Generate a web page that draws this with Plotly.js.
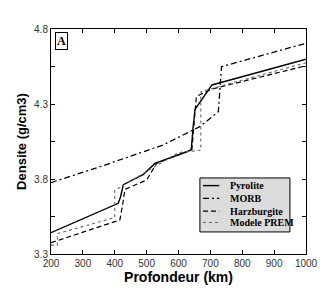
<!DOCTYPE html>
<html><head><meta charset="utf-8">
<script src="https://cdn.plot.ly/plotly-3.0.1.min.js"></script>
<style>body{margin:0;background:#fff}#g{width:336px;height:296px}</style>
</head><body><div id="g"></div>
<script>
const pyroX = [200, 411, 418, 427, 490, 526, 630, 640, 646, 652, 705, 1000];
const pyroY = [3.442, 3.638, 3.68, 3.762, 3.831, 3.904, 3.985, 3.995, 4.15, 4.265, 4.427, 4.598];
const morbX = [200, 354, 552, 667, 725, 730, 735, 1000];
const morbY = [3.776, 3.882, 4.027, 4.149, 4.249, 4.40, 4.549, 4.705];
const harzX = [200, 416, 424, 432, 500, 531, 630, 642, 650, 656, 705, 1000];
const harzY = [3.375, 3.527, 3.62, 3.731, 3.793, 3.904, 3.985, 3.995, 4.20, 4.35, 4.40, 4.555];
const premX = [200, 220, 220, 400, 400, 600, 670, 670, 771, 1000];
const premY = [3.359, 3.359, 3.436, 3.543, 3.724, 3.976, 3.992, 4.381, 4.443, 4.575];
const names = ['Pyrolite', 'MORB', 'Harzburgite', 'Modele PREM'];
const xTicks = [200, 300, 400, 500, 600, 700, 800, 900, 1000];
const yTicks = [3.3, 3.8, 4.3, 4.8];

const styles = [
  {color: '#000', width: 1.4, dash: 'solid'},
  {color: '#000', width: 1.3, dash: '6px,3px,2px,3px'},
  {color: '#000', width: 1.2, dash: '5px,3px'},
  {color: '#666', width: 1.1, dash: 'dot'}
];
const xs = [pyroX, morbX, harzX, premX];
const ys = [pyroY, morbY, harzY, premY];
const traces = names.map((n, i) => ({type: 'scatter', mode: 'lines', x: xs[i], y: ys[i], name: n, line: styles[i], showlegend: false}));

// manual legend (paper coords)
const rowY = [0.304, 0.247, 0.191, 0.140];
const shapes = [{type: 'rect', xref: 'paper', yref: 'paper', x0: 0.584, x1: 0.937, y0: 0.098, y1: 0.338,
  fillcolor: '#dcdcdc', line: {color: '#000', width: 1}, layer: 'above'}];
const annotations = [];
names.forEach((n, i) => {
  shapes.push({type: 'line', xref: 'paper', yref: 'paper', x0: 0.596, x1: 0.660, y0: rowY[i], y1: rowY[i], line: styles[i], layer: 'above'});
  annotations.push({xref: 'paper', yref: 'paper', x: 0.695, y: rowY[i], xanchor: 'left', yanchor: 'middle', showarrow: false,
    text: '<b>' + n + '</b>', font: {family: 'Liberation Serif, serif', size: 10, color: '#000'}});
});
annotations.push({
  xref: 'paper', yref: 'paper', x: 0.015, y: 0.985, xanchor: 'left', yanchor: 'top',
  text: '<b>A</b>', showarrow: false, bordercolor: '#000', borderwidth: 1, borderpad: 1,
  bgcolor: '#fff', font: {family: 'Liberation Serif, serif', size: 12, color: '#000'}
});

const layout = {
  width: 336, height: 296,
  margin: {l: 51, r: 30, t: 29, b: 42},
  paper_bgcolor: '#fff', plot_bgcolor: '#fff',
  showlegend: false,
  xaxis: {
    range: [200, 1000], tickvals: xTicks, ticktext: xTicks.map(String),
    ticks: 'inside', ticklen: 4, tickcolor: '#000', mirror: 'ticks',
    showline: true, linecolor: '#000', linewidth: 1, showgrid: false, zeroline: false,
    tickfont: {family: 'Liberation Sans, Arial, sans-serif', size: 10, color: '#333'},
    title: {text: '<b>Profondeur (km)</b>', font: {family: 'Liberation Sans, Arial, sans-serif', size: 14, color: '#000'}, standoff: 2}
  },
  yaxis: {
    range: [3.3, 4.8], tickvals: yTicks, ticktext: yTicks.map(v => v.toFixed(1)),
    ticks: 'inside', ticklen: 4, tickcolor: '#000', mirror: 'ticks',
    minor: {tickvals: [3.55, 4.05, 4.55], ticks: 'inside', ticklen: 4, tickcolor: '#000'},
    showline: true, linecolor: '#000', linewidth: 1, showgrid: false, zeroline: false,
    tickfont: {family: 'Liberation Sans, Arial, sans-serif', size: 10, color: '#333'},
    title: {text: '<b>Densite (g/cm3)</b>', font: {family: 'Liberation Sans, Arial, sans-serif', size: 13, color: '#000'}, standoff: 4}
  },
  shapes: shapes,
  annotations: annotations
};
Plotly.newPlot('g', traces, layout, {displayModeBar: false, staticPlot: true});
</script></body></html>
